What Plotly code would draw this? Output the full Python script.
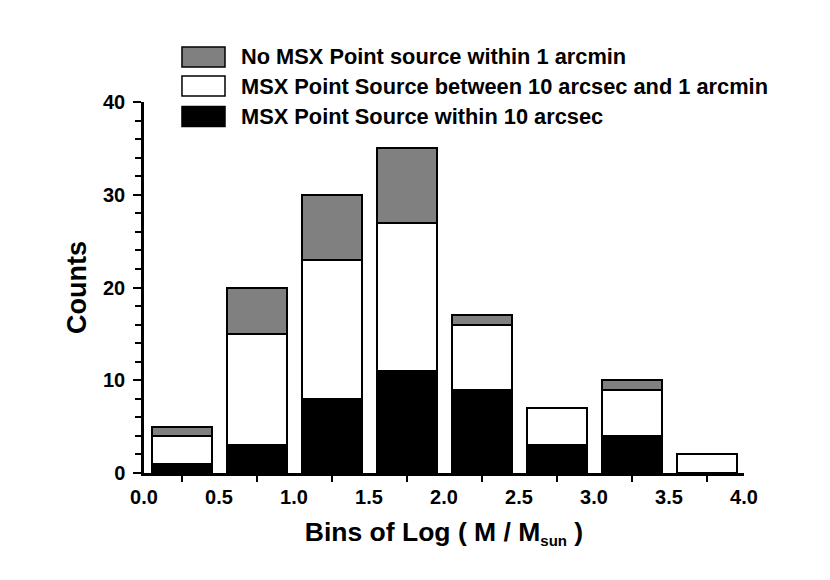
import plotly.graph_objects as go

# Data
bin_centers = [0.25, 0.75, 1.25, 1.75, 2.25, 2.75, 3.25, 3.75]
within_10arcsec = [1, 3, 8, 11, 9, 3, 4, 0]
between_10arcsec_1arcmin = [3, 12, 15, 16, 7, 4, 5, 2]
no_msx_within_1arcmin = [1, 5, 7, 8, 1, 0, 1, 0]

series_names = [
    "MSX Point Source within 10 arcsec",
    "MSX Point Source between 10 arcsec and 1 arcmin",
    "No MSX Point source within 1 arcmin",
]
series_values = [within_10arcsec, between_10arcsec_1arcmin, no_msx_within_1arcmin]
series_colors = ["#000000", "#ffffff", "#808080"]

x_tick_vals = [0.0, 0.5, 1.0, 1.5, 2.0, 2.5, 3.0, 3.5, 4.0]
x_tick_text = ["0.0", "0.5", "1.0", "1.5", "2.0", "2.5", "3.0", "3.5", "4.0"]
y_tick_vals = [0, 10, 20, 30, 40]

FONT = "Liberation Sans, Arial, sans-serif"

fig = go.Figure()
for name, vals, col in zip(series_names, series_values, series_colors):
    fig.add_trace(go.Bar(
        x=bin_centers, y=vals, name=name, width=0.4,
        marker=dict(color=col, line=dict(color="black", width=2)),
        showlegend=False,
    ))

# Custom legend (large boxes like the original)
legend_order = [2, 1, 0]
row_y = [1.1213, 1.0431, 0.9609]
box_h = 0.0539
for yc, idx in zip(row_y, legend_order):
    fig.add_shape(type="rect", xref="paper", yref="paper",
                  x0=0.0633, x1=0.135, y0=yc - box_h / 2, y1=yc + box_h / 2,
                  fillcolor=series_colors[idx], line=dict(color="black", width=1.5))
    fig.add_annotation(xref="paper", yref="paper", x=0.158, y=yc,
                       text=series_names[idx], showarrow=False,
                       xanchor="left", yanchor="middle",
                       font=dict(family=FONT, size=21.8, color="black", weight="bold"))

fig.update_layout(
    width=830, height=580,
    margin=dict(l=136, r=94, t=94, b=115),
    paper_bgcolor="white", plot_bgcolor="white",
    barmode="stack", bargap=0,
    font=dict(family=FONT, color="black", size=20, weight="bold"),
    xaxis=dict(
        range=[0, 4], tickvals=x_tick_vals, ticktext=x_tick_text,
        ticks="", showgrid=False, zeroline=False,
        showline=True, linecolor="black", linewidth=2.5,
        tickfont=dict(family=FONT, size=20, weight="bold"),
        ticklabelstandoff=4,
        minor=dict(tick0=0.25, dtick=0.5, ticks="outside", ticklen=6,
                   tickwidth=2, tickcolor="black", showgrid=False),
        title=dict(text="Bins of Log ( M / M<sub><span style='font-size:15px'>sun</span></sub> )",
                   standoff=16,
                   font=dict(family=FONT, size=26.5, weight="bold")),
    ),
    xaxis2=dict(
        range=[0, 4], overlaying="x", matches="x", side="bottom",
        tickmode="array", tickvals=bin_centers, ticks="inside", ticklen=6,
        tickwidth=2, tickcolor="black", showticklabels=False,
        showgrid=False, zeroline=False, showline=False,
    ),
    yaxis=dict(
        range=[0, 40], tickvals=y_tick_vals,
        ticks="outside", ticklen=8, tickwidth=2, tickcolor="black",
        showgrid=False, zeroline=False,
        showline=True, linecolor="black", linewidth=2.5,
        tickfont=dict(family=FONT, size=20, weight="bold"),
        ticklabelstandoff=4,
        minor=dict(dtick=2, ticks="outside", ticklen=6, tickwidth=1.5,
                   tickcolor="black", showgrid=False),
        title=dict(text="Counts", standoff=9,
                   font=dict(family=FONT, size=27, weight="bold")),
    ),
)

fig.write_html("out.html")
